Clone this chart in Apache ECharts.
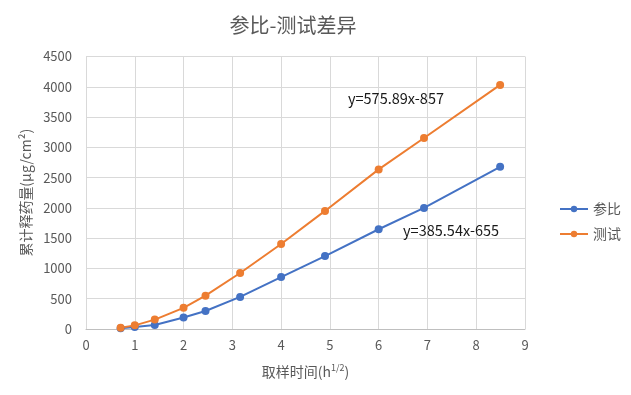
<!DOCTYPE html>
<html><head><meta charset="utf-8">
<script src="https://cdn.jsdelivr.net/npm/echarts@6/dist/echarts.min.js"></script>
<style>html,body{margin:0;padding:0;background:#fff}#c{width:631px;height:395px}</style>
</head><body><div id="c"></div>
<script>
const xTimes = [0.71, 1, 1.41, 2, 2.45, 3.16, 4, 4.9, 6, 6.93, 8.49];
const refValues = [12, 35, 65, 190, 298, 530, 858, 1205, 1647, 2000, 2679];
const testValues = [20, 60, 155, 350, 550, 925, 1404, 1950, 2636, 3154, 4031];
const seriesNames = ['参比', '测试'];
const eqTest = 'y=575.89x-857';
const eqRef = 'y=385.54x-655';
const eqTestPos = [5.37, 3810];
const eqRefPos = [6.5, 1634];

const chart = echarts.init(document.getElementById('c'));
const txt = '#595959';
const font = "'Microsoft YaHei','Noto Sans CJK SC','Noto Sans',sans-serif";
function pairs(v){ return xTimes.map((x,i)=>[x, v[i]]); }
chart.setOption({
  animation: false,
  textStyle: {fontFamily: font},
  title: {text: '参比-测试差异', left: 288, top: 10, textAlign: 'center',
    textStyle: {fontSize: 20, fontWeight: 'normal', color: txt, fontFamily: font}},
  grid: {left: 86, right: 106, top: 56.5, bottom: 66},
  legend: {orient: 'vertical', left: 554, top: 197, itemGap: 11, itemWidth: 28, itemHeight: 8,
    textStyle: {fontSize: 14, color: txt}, data: seriesNames},
  xAxis: {type: 'value', min: 0, max: 9, interval: 1,
    name: '{a|取样时间(h}{s|1/2}{a|)}', nameLocation: 'middle', nameGap: 34,
    nameTextStyle: {rich: {a: {fontSize: 14, color: txt}, s: {fontSize: 9, color: txt, padding: [0,0,8,0]}}},
    axisLine: {lineStyle: {color: '#BFBFBF'}}, axisTick: {show: false},
    axisLabel: {color: txt, fontSize: 13, margin: 10},
    splitLine: {lineStyle: {color: '#D9D9D9'}}},
  yAxis: {type: 'value', min: 0, max: 4500, interval: 500,
    name: '累计释药量(μg/cm²)', nameLocation: 'middle', nameGap: 52,
    nameTextStyle: {fontSize: 14, color: txt},
    axisLine: {show: true, lineStyle: {color: '#D9D9D9'}}, axisTick: {show: false},
    axisLabel: {color: txt, fontSize: 13, margin: 14, formatter: v => String(v)},
    splitLine: {lineStyle: {color: '#D9D9D9'}}},
  series: [
    {name: seriesNames[0], type: 'line', data: pairs(refValues), symbol: 'circle', symbolSize: 8,
      itemStyle: {color: '#4472C4'}, lineStyle: {width: 2},
      markPoint: {symbol: 'circle', symbolSize: 0, data: [{coord: eqRefPos, value: eqRef}],
        label: {show: true, position: 'right', distance: 0, formatter: eqRef, color: '#1a1a1a', fontSize: 14.5}}},
    {name: seriesNames[1], type: 'line', data: pairs(testValues), symbol: 'circle', symbolSize: 8,
      itemStyle: {color: '#ED7D31'}, lineStyle: {width: 2},
      markPoint: {symbol: 'circle', symbolSize: 0, data: [{coord: eqTestPos, value: eqTest}],
        label: {show: true, position: 'right', distance: 0, formatter: eqTest, color: '#1a1a1a', fontSize: 14.5}}}
  ]
});
</script></body></html>
